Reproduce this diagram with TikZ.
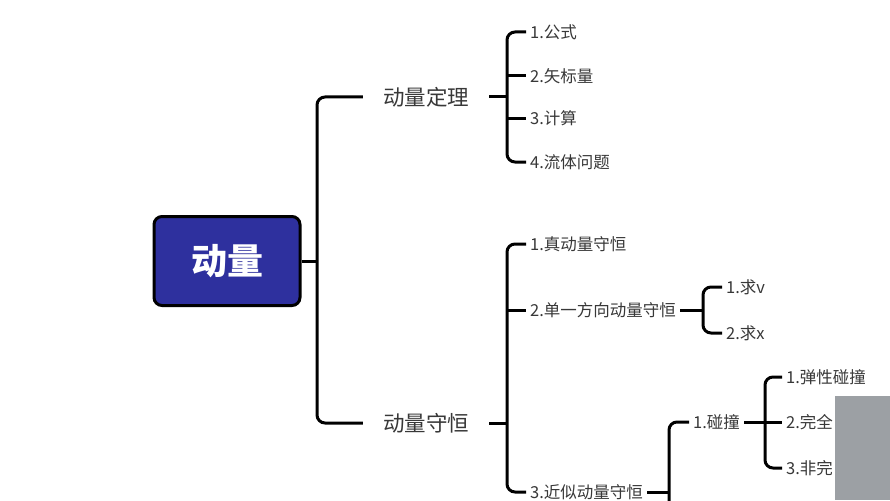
\documentclass[tikz,border=0pt]{standalone}
\usepackage{fontspec}
\newfontfamily\cjk{Noto Sans CJK SC}
\usetikzlibrary{positioning}
\definecolor{rootblue}{RGB}{46,48,158}
\definecolor{screengray}{RGB}{156,160,164}
\tikzset{
  link/.style={line width=3pt, rounded corners=8pt},
  rootbox/.style={draw=black, line width=3pt, rounded corners=8pt, fill=rootblue,
    minimum width=146pt, minimum height=89pt, text=white,
    font=\cjk\bfseries\fontsize{36}{36}\selectfont},
  topic/.style={inner xsep=20pt, text=black!78, font=\cjk\fontsize{21.5}{21.5}\selectfont},
  leaf/.style={anchor=west, inner xsep=4pt, text=black!78, font=\cjk\fontsize{16.5}{16.5}\selectfont},
}

\begin{document}
\begin{tikzpicture}[x=1pt,y=-1pt]
                    \clip (0,0) rectangle (890,500);
                    \fill[white] (0,0) rectangle (890,500);

                    \node[rootbox] (momentum) at (227,261) {动量};
                    \node[topic] (theorem) at (426,97) {动量定理};
                    \node[topic] (conserv) at (426,423) {动量守恒};

                    % children of the theorem
                    \node[leaf] (formula) at (526,32) {1.公式};
                    \node[leaf] (vector) at (526,76) {2.矢标量};
                    \node[leaf] (calc) at (526,118) {3.计算};
                    \node[leaf] (fluid) at (526,162) {4.流体问题};

                    % children of conservation
                    \node[leaf] (real) at (526,244) {1.真动量守恒};
                    \node[leaf] (single) at (526,310) {2.单一方向动量守恒};
                    \node[leaf] (approx) at (526,492) {3.近似动量守恒};
                    \node[leaf] (solv) at (722,287) {1.求v};
                    \node[leaf] (solx) at (722,333) {2.求x};
                    \node[leaf] (collide) at (689,422) {1.碰撞};
                    \node[leaf] (elastic) at (782,377) {1.弹性碰撞};
                    \node[leaf] (perfect) at (782,422) {2.完全};
                    \node[leaf] (inelastic) at (782,468) {3.非完};

                    \coordinate (mj) at (317,261);
                    \coordinate (tj) at (507,97);
                    \coordinate (cj) at (507,423);
                    \coordinate (sj) at (703,310);
                    \coordinate (aj) at (669,492);
                    \coordinate (aend) at (669,530);
                    \coordinate (kj) at (765,422);

                    \draw[link] (momentum.east) -- (mj);
                    \draw[link] (theorem.west) -| (mj) |- (conserv.west);

                    \draw[link] (theorem.east) -- (tj);
                    \draw[link] (formula.west) -| (tj) |- (fluid.west);
                    \draw[link] (vector.west -| tj) -- (vector.west);
                    \draw[link] (calc.west -| tj) -- (calc.west);

                    \draw[link] (conserv.east) -- (cj);
                    \draw[link] (real.west) -| (cj) |- (approx.west);
                    \draw[link] (single.west -| cj) -- (single.west);

                    \draw[link] (single.east) -- (sj);
                    \draw[link] (solv.west) -| (sj) |- (solx.west);

                    \draw[link] (approx.east) -- (aj);
                    \draw[link] (collide.west) -| (aend);

                    \draw[link] (collide.east) -- (kj);
                    \draw[link] (elastic.west) -| (kj) |- (inelastic.west);
                    \draw[link] (perfect.west -| kj) -- (perfect.west);

                    % grey patch over the lower right corner
                    \fill[screengray] (835,396) rectangle (890,500);
\end{tikzpicture}
\end{document}
